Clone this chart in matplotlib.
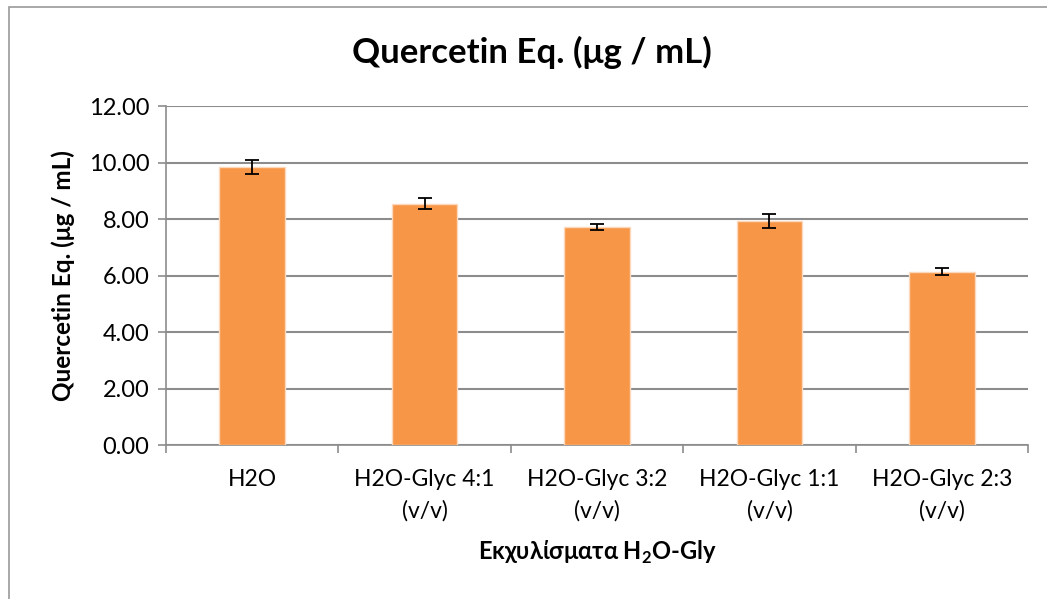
import matplotlib.pyplot as plt
import numpy as np
from matplotlib.patches import Rectangle

categories = ['H2O', 'H2O-Glyc 4:1\n(v/v)', 'H2O-Glyc 3:2\n(v/v)',
              'H2O-Glyc 1:1\n(v/v)', 'H2O-Glyc 2:3\n(v/v)']
values = [9.85, 8.54, 7.72, 7.94, 6.13]
errors = [0.25, 0.19, 0.12, 0.25, 0.12]
yticks = [0, 2, 4, 6, 8, 10, 12]

plt.rcParams['font.family'] = ['Lato', 'DejaVu Sans']
plt.rcParams['mathtext.fontset'] = 'custom'
plt.rcParams['mathtext.rm'] = 'Lato'
plt.rcParams['mathtext.bf'] = 'Lato:bold'

fig = plt.figure(figsize=(10.47, 5.99), dpi=100)
ax = fig.add_axes([0.1585, 0.257, 0.8235, 0.566])

# frame around the whole chart like the Excel chart area
fig.patches.append(Rectangle((0.009, -0.01), 1.1, 0.998, transform=fig.transFigure,
                             fill=False, edgecolor='#9a9a9a', linewidth=1.2))

x = np.arange(len(categories))
ax.bar(x, values, width=0.38, color='#F79646', edgecolor='#FCD9BC', linewidth=1.0, zorder=3)
ax.errorbar(x, values, yerr=errors, fmt='none', ecolor='black', elinewidth=1.3,
            capsize=5, capthick=1.3, zorder=4)

ax.set_xlim(-0.5, len(categories) - 0.5)
ax.set_ylim(0, 12)
ax.set_yticks(yticks)
ax.set_yticklabels([f'{v:.2f}' for v in yticks], fontsize=17)
ax.yaxis.grid(True, color='#8c8c8c', linewidth=1.5, zorder=0)
ax.set_axisbelow(True)

ax.set_xticks(x)
ax.set_xticklabels(categories, fontsize=16.5, linespacing=1.6)
ax.set_xticks(np.arange(-0.5, len(categories), 1), minor=True)
ax.tick_params(axis='x', which='major', length=0, pad=17)
ax.tick_params(axis='x', which='minor', length=6, color='#8c8c8c', width=1.2)
ax.tick_params(axis='y', length=6, color='#8c8c8c', width=1.2, pad=6)

for s in ['top', 'right']:
    ax.spines[s].set_visible(False)
ax.spines['left'].set_color('#8c8c8c')
ax.spines['bottom'].set_color('#8c8c8c')
ax.spines['left'].set_linewidth(1.2)
ax.spines['bottom'].set_linewidth(1.2)

ax.set_ylabel('Quercetin Eq. (μg / mL)', fontsize=17.5, fontweight='bold', labelpad=10)
ax.set_xlabel('Εκχυλίσματα H$_\\mathbf{2}$O-Gly', fontsize=17, fontweight='bold', labelpad=12)
fig.text(0.508, 0.913, 'Quercetin Eq. (μg / mL)', fontsize=25, fontweight='bold',
         ha='center', va='center')

fig.savefig('out.png', dpi=100, facecolor='white')
